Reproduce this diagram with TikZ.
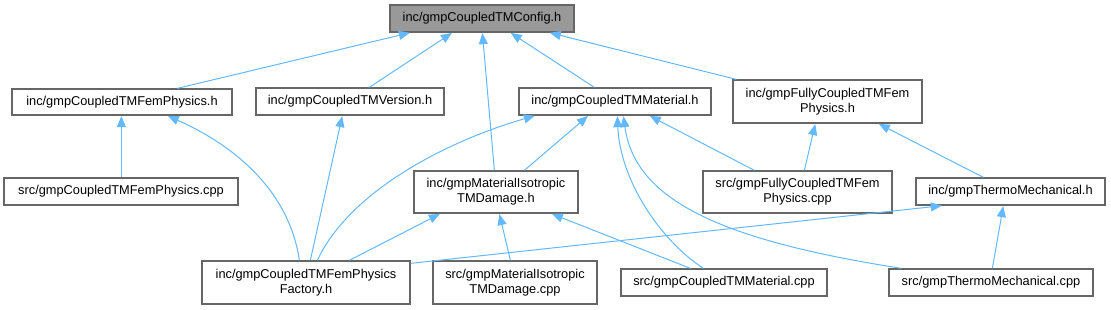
\documentclass[tikz,border=0pt]{standalone}
\usepackage{fontspec}
\setmainfont{Liberation Sans}
\usetikzlibrary{arrows.meta,calc}
\definecolor{edgeblue}{HTML}{63B8FF}
\definecolor{boxborder}{HTML}{666666}
\definecolor{rootfill}{HTML}{999999}
\tikzset{
  filebox/.style={draw=boxborder, line width=1.3pt, fill=white, inner sep=0pt, align=center,
    font=\fontsize{12.8}{15}\selectfont, text=black},
  rootbox/.style={filebox, fill=rootfill},
  dep/.style={draw=edgeblue, line width=1pt, -{Triangle[length=11pt,width=9pt]}, shorten >=0.5pt}
}
\begin{document}
\begin{tikzpicture}[x=1pt,y=-1pt]
\useasboundingbox (0,0) rectangle (1111,309);
% nodes
\node[rootbox, minimum width=184pt, minimum height=27pt] (cfg) at (482,18.5) {inc/gmpCoupledTMConfig.h};
\node[filebox, minimum width=220pt, minimum height=26pt] (femH) at (122,102) {inc/gmpCoupledTMFemPhysics.h};
\node[filebox, minimum width=188pt, minimum height=27pt] (verH) at (350,101.5) {inc/gmpCoupledTMVersion.h};
\node[filebox, minimum width=192pt, minimum height=27pt] (matH) at (615,101.5) {inc/gmpCoupledTMMaterial.h};
\node[filebox, minimum width=189pt, minimum height=43pt] (fullyH) at (827.5,101.5) {inc/gmpFullyCoupledTMFem\\Physics.h};
\node[filebox, minimum width=234pt, minimum height=27pt] (femCpp) at (121,191.5) {src/gmpCoupledTMFemPhysics.cpp};
\node[filebox, minimum width=164pt, minimum height=42pt] (isoH) at (496,192) {inc/gmpMaterialIsotropic\\TMDamage.h};
\node[filebox, minimum width=189pt, minimum height=42pt] (fullyCpp) at (797.5,192) {src/gmpFullyCoupledTMFem\\Physics.cpp};
\node[filebox, minimum width=189pt, minimum height=27pt] (thermoH) at (1010.5,191.5) {inc/gmpThermoMechanical.h};
\node[filebox, minimum width=208pt, minimum height=43pt] (fact) at (306,282.5) {inc/gmpCoupledTMFemPhysics\\Factory.h};
\node[filebox, minimum width=164pt, minimum height=43pt] (isoCpp) at (515,282.5) {src/gmpMaterialIsotropic\\TMDamage.cpp};
\node[filebox, minimum width=206pt, minimum height=27pt] (matCpp) at (724,282.5) {src/gmpCoupledTMMaterial.cpp};
\node[filebox, minimum width=204pt, minimum height=27pt] (thermoCpp) at (991,282.5) {src/gmpThermoMechanical.cpp};
% edges (arrow points at the included header)
\draw[dep] ($(femH.north west)+(166,0)$) -- ($(cfg.south west)+(21,0)$);
\draw[dep] ($(verH.north west)+(114,0)$) -- ($(cfg.south west)+(63,0)$);
\draw[dep] ($(isoH.north west)+(81,0)$) -- ($(cfg.south west)+(93,0)$);
\draw[dep] ($(matH.north west)+(76,0)$) -- ($(cfg.south west)+(121,0)$);
\draw[dep] ($(fullyH.north west)+(4,0)$) -- ($(cfg.south west)+(160,0)$);
\draw[dep] ($(femCpp.north west)+(118,0)$) -- ($(femH.south west)+(110,0)$);
\draw[dep] ($(fact.north west)+(98,0)$) .. controls (290,195) and (240,148) .. ($(femH.south west)+(156,0)$);
\draw[dep] ($(fact.north west)+(109,0)$) -- ($(verH.south west)+(87,0)$);
\draw[dep] ($(fact.north west)+(116,0)$) .. controls (350,190) and (450,140) .. ($(matH.south west)+(17,0)$);
\draw[dep] ($(isoH.north west)+(111,0)$) -- ($(matH.south west)+(70,0)$);
\draw[dep] ($(matCpp.north west)+(83,0)$) .. controls (660,240) and (620,180) .. ($(matH.south west)+(99,0)$);
\draw[dep] ($(thermoCpp.north west)+(13,0)$) .. controls (720,240) and (635,200) .. ($(matH.south west)+(105,0)$);
\draw[dep] ($(fullyCpp.north west)+(52,0)$) -- ($(matH.south west)+(131,0)$);
\draw[dep] ($(fullyCpp.north west)+(102,0)$) -- ($(fullyH.south west)+(83,0)$);
\draw[dep] ($(thermoH.north west)+(68,0)$) -- ($(fullyH.south west)+(146,0)$);
\draw[dep] ($(fact.north west)+(148,0)$) -- ($(isoH.south west)+(27,0)$);
\draw[dep] ($(isoCpp.north west)+(78,0)$) -- ($(isoH.south west)+(86,0)$);
\draw[dep] ($(matCpp.north west)+(70,0)$) -- ($(isoH.south west)+(138,0)$);
\draw[dep] ($(fact.north east)+(0,3)$) -- ($(thermoH.south west)+(27,0)$);
\draw[dep] ($(thermoCpp.north west)+(104,0)$) -- ($(thermoH.south west)+(88,0)$);
\end{tikzpicture}
\end{document}
